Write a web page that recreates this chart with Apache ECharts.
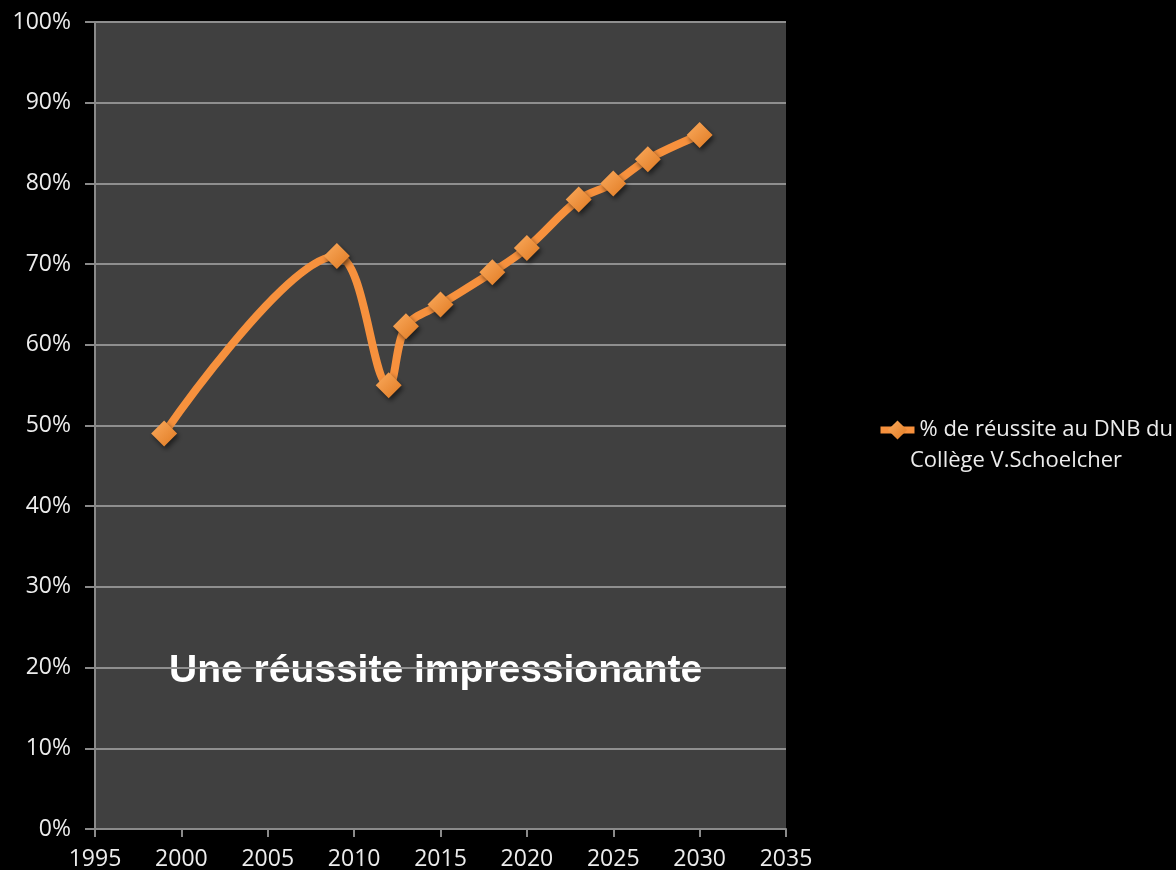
<!DOCTYPE html>
<html lang="fr">
<head>
    <meta charset="UTF-8">
    <title>Réussite DNB</title>
    <script src="https://cdn.jsdelivr.net/npm/echarts@6/dist/echarts.min.js"></script>
    <style>
        html, body { margin: 0; padding: 0; background: #000; }
    </style>
</head>
<body>
    <div id="main" style="width: 1176px;height:870px;"></div>
    <script type="text/javascript">
        // values
        const years = [1999, 2009, 2012, 2013, 2015, 2018, 2020, 2023, 2025, 2027, 2030];
        const rates = [49, 71, 55, 62.3, 65, 69, 72, 78, 80, 83, 86];
        const seriesName = '% de réussite au DNB du';
        const seriesName2 = 'Collège V.Schoelcher';
        const note = 'Une réussite impressionante';

        const orange = '#f7913d';
        const txt = '#ececec';
        const font = '"Open Sans", "DejaVu Sans", sans-serif';

        let options = {
            backgroundColor: '#000',
            animation: false,
            grid: {
                left: 95, right: 390, top: 22, bottom: 41,
                outerBoundsMode: 'none',
                show: true, backgroundColor: '#404040', borderWidth: 0
            },
            xAxis: {
                type: 'value', min: 1995, max: 2035, interval: 5,
                axisLine: { show: true, lineStyle: { color: '#8a8a8a', width: 2 } },
                axisTick: { show: true, inside: false, length: 8, lineStyle: { color: '#8a8a8a', width: 2 } },
                splitLine: { show: false },
                axisLabel: {
                    color: txt, fontSize: 23, fontFamily: font, margin: 19,
                    formatter: (v) => String(v)
                }
            },
            yAxis: {
                type: 'value', min: 0, max: 100, interval: 10,
                axisLine: { show: true, lineStyle: { color: '#8a8a8a', width: 2 } },
                axisTick: { show: true, length: 10, lineStyle: { color: '#8a8a8a', width: 2 } },
                splitLine: { show: true, lineStyle: { color: '#8f8f8f', width: 2 } },
                axisLabel: { color: txt, fontSize: 23, fontFamily: font, margin: 24, formatter: '{value}%' }
            },
            legend: {
                left: 872, top: 414,
                itemWidth: 34, itemHeight: 24,
                itemGap: 0,
                lineStyle: { width: 7 },
                textStyle: { color: txt, fontSize: 22, fontFamily: font },
                data: [{ name: seriesName }]
            },
            graphic: [
                {
                    type: 'text', left: 910, top: 450,
                    style: { text: seriesName2, fill: txt, fontSize: 22, fontFamily: font }
                },
                {
                    type: 'text', left: 169, top: 652,
                    style: {
                        text: note, fill: '#fff', fontSize: 39,
                        fontWeight: 'bold', fontFamily: '"Liberation Sans", Arial, sans-serif'
                    }
                }
            ],
            series: [{
                name: seriesName,
                type: 'line',
                smooth: 0.35,
                data: years.map((y, i) => [y, rates[i]]),
                symbol: 'diamond',
                symbolSize: 26,
                lineStyle: { color: orange, width: 8 },
                itemStyle: {
                    color: {
                        type: 'linear', x: 0, y: 0, x2: 1, y2: 1,
                        colorStops: [{ offset: 0, color: '#fbab5e' }, { offset: 1, color: '#e07a22' }]
                    },
                    shadowColor: 'rgba(0,0,0,0.55)', shadowBlur: 5, shadowOffsetX: 2, shadowOffsetY: 3
                }
            }]
        };

        let myChart = echarts.init(document.getElementById('main'));
        myChart.setOption(options);
    </script>
</body>
</html>
